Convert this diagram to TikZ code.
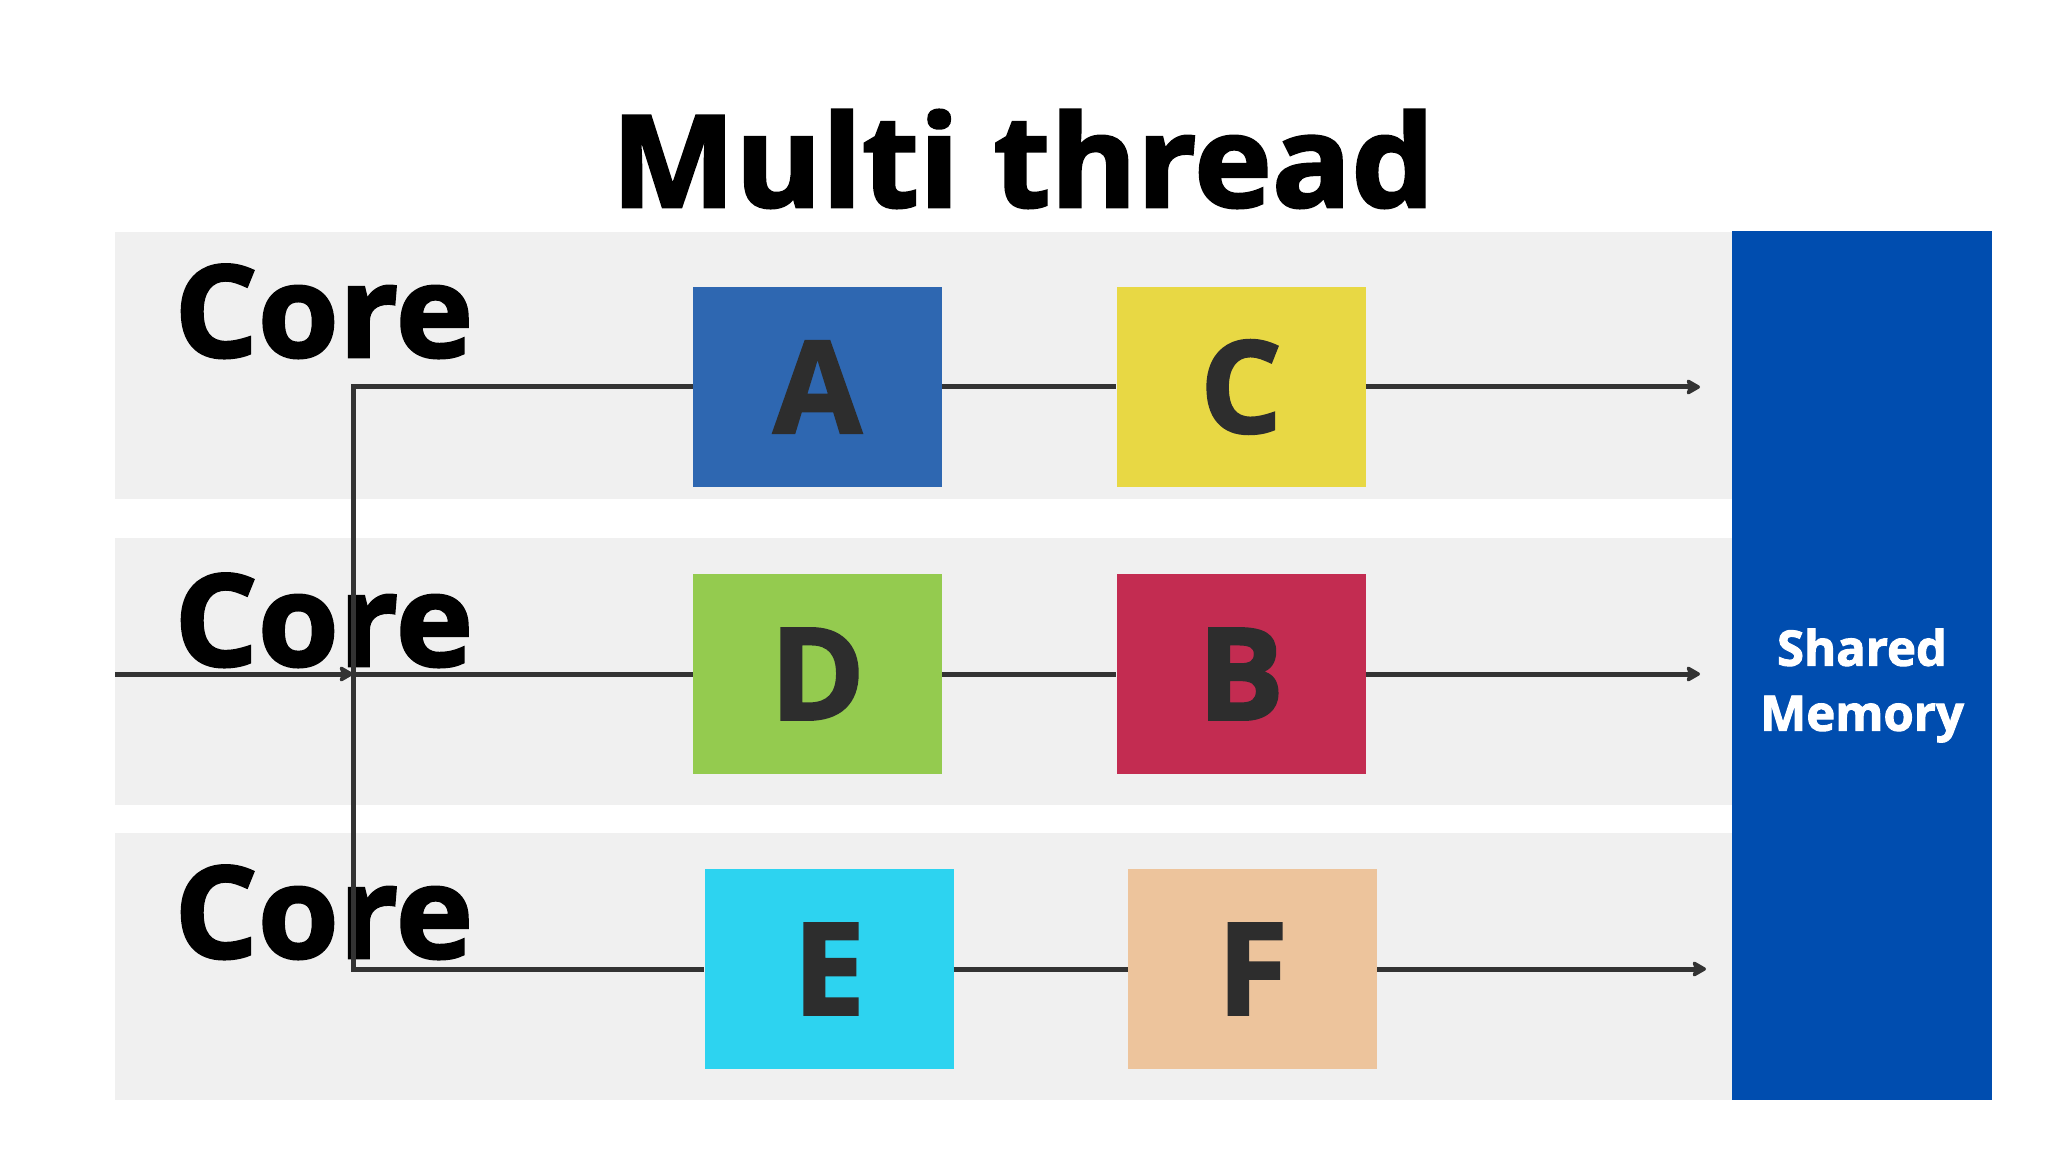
\documentclass[tikz,border=0pt]{standalone}
\usepackage{fontspec}
\setmainfont{Open Sans}[BoldFeatures={FakeBold=2}]
\usetikzlibrary{arrows.meta}
\definecolor{bandgray}{HTML}{F0F0F0}
\definecolor{cA}{HTML}{2E67B1}
\definecolor{cC}{HTML}{E8D844}
\definecolor{cD}{HTML}{94CB4F}
\definecolor{cB}{HTML}{C32C51}
\definecolor{cE}{HTML}{2DD3F0}
\definecolor{cF}{HTML}{EDC49C}
\definecolor{memblue}{HTML}{004DAF}
\definecolor{ink}{HTML}{2D2D2D}
\definecolor{linec}{HTML}{333333}
\tikzset{
  taskbox/.style={draw=none, inner sep=0pt, minimum width=124.5bp, minimum height=100bp,
    text=ink, font=\fontsize{64bp}{64bp}\selectfont\bfseries},
  corelabel/.style={anchor=base west, inner sep=0pt, font=\fontsize{64bp}{64bp}\selectfont\bfseries},
  conn/.style={draw=linec, line width=2.5bp},
  arr/.style={conn, -{Stealth[length=8bp,width=9bp,inset=1.5bp,round]}},
}
\begin{document}
\begin{tikzpicture}[x=0.5bp,y=-0.5bp]
\useasboundingbox (0,0) rectangle (2048,1152);
\fill[white] (0,0) rectangle (2048,1152);
% bands
\fill[bandgray] (115,232) rectangle (1732,499);
\fill[bandgray] (115,538) rectangle (1732,805);
\fill[bandgray] (115,833) rectangle (1732,1100);
% title
\node[anchor=base, inner sep=0pt, font=\fontsize{64bp}{64bp}\selectfont\bfseries] (title) at (1023,207) {\scalebox{1.028}[1]{Multi thread}};
% core labels
\node[corelabel] (core1) at (174,357) {\scalebox{1.023}[1]{Core}};
\node[corelabel] (core2) at (174,666) {\scalebox{1.023}[1]{Core}};
\node[corelabel] (core3) at (174,958) {\scalebox{1.023}[1]{Core}};
% shared memory
\node[fill=memblue, inner sep=0pt, minimum width=130bp, minimum height=434.5bp] (mem) at (1862,665.5) {};
\node[text=white, align=center, inner sep=0pt, font=\fontsize{24.5bp}{32.5bp}\selectfont\bfseries] (memtext) at (1862,685.5) {Shared\\Memory};
% connector coordinates
\coordinate (in) at (115,674);
\coordinate (mid) at (353,674);
\coordinate (o1) at (1700,387);
\coordinate (o2) at (1700,674);
\coordinate (o3) at (1706,969);
% boxes (placed as nodes)
\node[taskbox, fill=cA] (A) at (817.5,387) {A};
\node[taskbox, fill=cC] (C) at (1241,387) {C};
\node[taskbox, fill=cD] (D) at (817.5,674) {D};
\node[taskbox, fill=cB] (B) at (1241,674) {B};
\node[taskbox, fill=cE] (E) at (829,969) {E};
\node[taskbox, fill=cF] (F) at (1252.5,969) {F};
% connectors
\draw[conn] (A.west) -| (mid) |- (E.west);
\draw[arr] (in) -- (mid);
\draw[conn] (mid) -- (D.west);
\draw[conn] (A.east) -- (C.west);
\draw[conn] (D.east) -- (B.west);
\draw[conn] (E.east) -- (F.west);
\draw[arr] (C.east) -- (o1);
\draw[arr] (B.east) -- (o2);
\draw[arr] (F.east) -- (o3);
\end{tikzpicture}
\end{document}
